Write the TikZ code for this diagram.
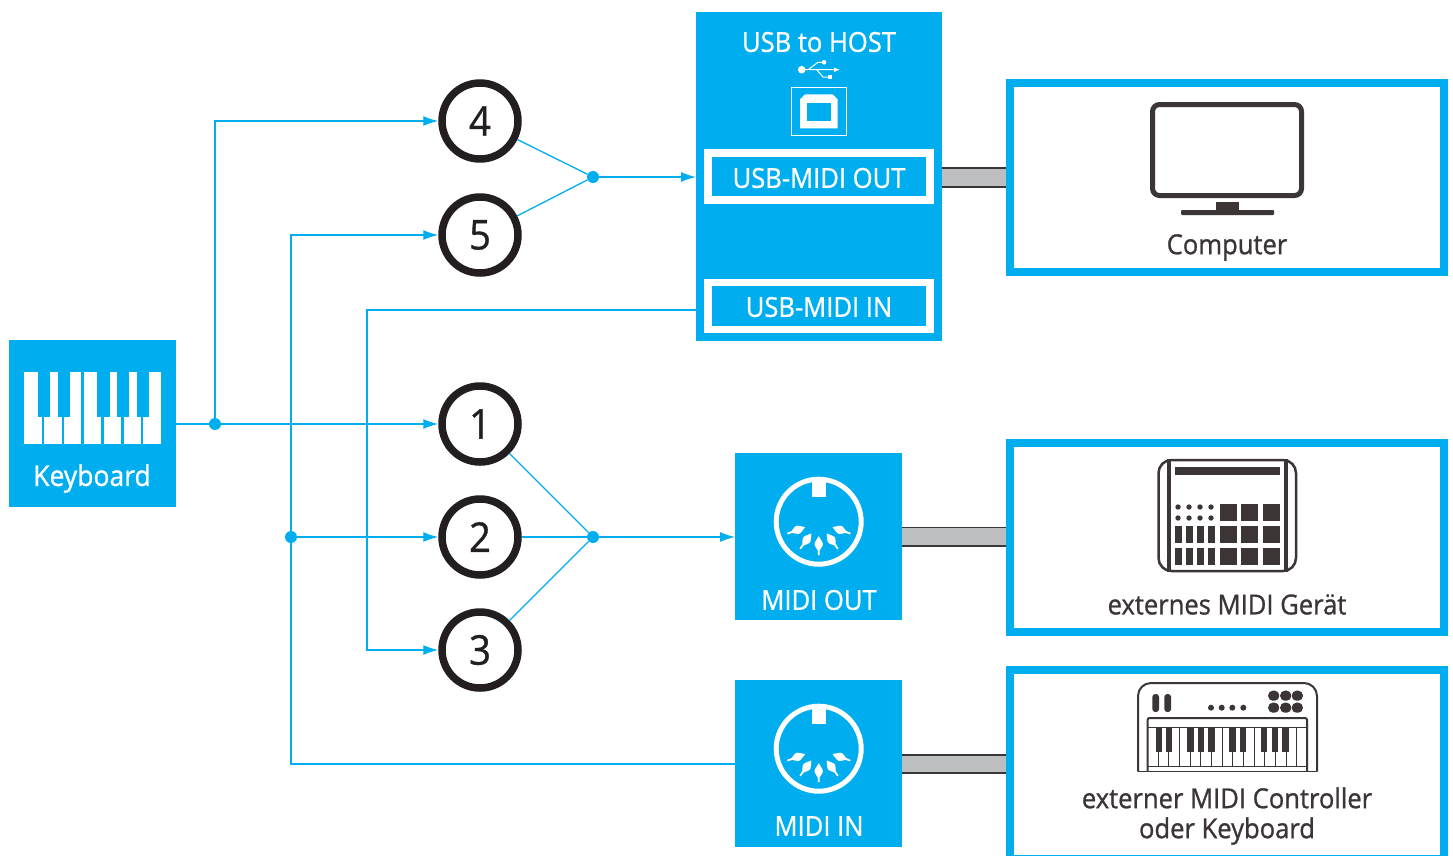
\documentclass[tikz,border=0pt]{standalone}
\usepackage{fontspec}
\setmainfont[FakeStretch=0.93,FakeBold=0.9]{Open Sans}
\usetikzlibrary{arrows.meta}
\definecolor{rblue}{HTML}{00AEEF}
\definecolor{rdark}{HTML}{3B3535}
\definecolor{rblack}{HTML}{231F20}
\definecolor{rgray}{HTML}{BCBEC0}
\newcommand\midipin[3]{\fill[white,shift={(#1,#2)},rotate=#3] (0,-9) .. controls (1.5,-6) and (4.5,-3) .. (4.2,-0.5) .. controls (4,2) and (1.5,3) .. (1,5) -- (0.8,10) -- (-0.8,10) -- (-1,5) .. controls (-1.5,3) and (-4,2) .. (-4.2,-0.5) .. controls (-4.5,-3) and (-1.5,-6) .. (0,-9) -- cycle;}
\newcommand\midijack[2]{%
  \draw[white,line width=5pt] (#1,#2) circle (42.5);
  \fill[white] (#1-7,#2-42) rectangle (#1+7.2,#2-24.5);
  \midipin{#1}{#2+23.5}{0}
  \midipin{#1-12.7}{#2+19}{-36}
  \midipin{#1+13.3}{#2+19}{36}
  \midipin{#1-22}{#2+8.5}{-70}
  \midipin{#1+22.3}{#2+8.5}{70}
}
\tikzset{
  flow/.style={draw=rblue,line width=1.3pt},
  flowarrow/.style={flow,-{Latex[length=15pt,width=10pt]}},
  junction/.style={circle,fill=rblue,inner sep=0pt,minimum size=12pt},
  numcircle/.style={circle,draw=rblack,line width=7.5pt,minimum size=76pt,inner sep=0pt,fill=white,text=rblack,font=\fontsize{41}{41}\selectfont},
  bluebox/.style={fill=rblue,inner sep=0pt,outer sep=0pt},
  framebox/.style={draw=rblue,line width=8pt,fill=white,inner sep=0pt,outer sep=0pt},
  whitebox/.style={draw=white,line width=7.5pt,fill=rblue,inner sep=0pt,outer sep=0pt},
  whitetext/.style={text=white,font=\fontsize{27.5}{27.5}\selectfont,inner sep=0pt},
  darktext/.style={text=rdark,font=\fontsize{27.5}{30}\selectfont,inner sep=0pt,align=center},
  cable/.style={fill=rgray,draw=none},
  cableedge/.style={draw=rdark,line width=1.6pt},
}
\begin{document}
\begin{tikzpicture}[x=1pt,y=-1pt]
\useasboundingbox (0,0) rectangle (1453,855);
\clip (0,0) rectangle (1453,855);
% cables
\fill[cable] (942,168) rectangle (1006,187);
\draw[cableedge] (942,168) -- (1006,168) (942,187) -- (1006,187);
\fill[cable] (902,527.5) rectangle (1006,546);
\draw[cableedge] (902,527.5) -- (1006,527.5) (902,546) -- (1006,546);
\fill[cable] (902,755) rectangle (1006,773);
\draw[cableedge] (902,755) -- (1006,755) (902,773) -- (1006,773);
% blue boxes
\node[bluebox,minimum width=167pt,minimum height=167pt] (kbd) at (92.5,423.5) {};
\node[bluebox,minimum width=246pt,minimum height=329pt] (usb) at (819,176.5) {};
\node[bluebox,minimum width=167pt,minimum height=167pt] (mout) at (818.5,536.5) {};
\node[bluebox,minimum width=167pt,minimum height=167pt] (min) at (818.5,763.5) {};
\node[whitebox,minimum width=222pt,minimum height=47pt] (uout) at (819,176.5) {};
\node[whitebox,minimum width=222pt,minimum height=47pt] (uin) at (819,306) {};
% frames
\node[framebox,minimum width=434pt,minimum height=189pt] (comp) at (1227,177) {};
\node[framebox,minimum width=434pt,minimum height=189pt] (ext) at (1227,537) {};
\node[framebox,minimum width=434pt,minimum height=189pt] (ctl) at (1227,764.5) {};
% junctions and corners
\node[junction] (j1) at (215,424) {};
\node[junction] (j2) at (291,537) {};
\node[junction] (j3) at (593,177) {};
\node[junction] (j4) at (593,537) {};
\coordinate (k4) at (215,121);
\coordinate (k5) at (291,235);
\coordinate (kin) at (291,764);
\coordinate (ku) at (367,310);
\coordinate (k3) at (367,650);
% numbered circles
\node[numcircle] (c4) at (480,121) {4};
\node[numcircle] (c5) at (480,235) {5};
\node[numcircle] (c1) at (480,424) {1};
\node[numcircle] (c2) at (480,537) {2};
\node[numcircle] (c3) at (480,650) {3};
% connectors
\draw[flowarrow] (kbd.east |- c1) -- (c1.west);
\draw[flowarrow] (j1) -- (k4) -- (c4.west);
\draw[flowarrow] (min.west |- kin) -- (kin) -- (k5) -- (c5.west);
\draw[flowarrow] (j2) -- (c2.west);
\draw[flowarrow] (usb.west |- ku) -- (ku) -- (k3) -- (c3.west);
\draw[flow] (c4) -- (j3);
\draw[flow] (c5) -- (j3);
\draw[flow] (c1) -- (j4);
\draw[flow] (c2) -- (j4);
\draw[flow] (c3) -- (j4);
\draw[flowarrow] (j3) -- (usb.west |- j3);
\draw[flowarrow] (j4) -- (mout.west |- j4);
% keyboard icon
\foreach \a/\b in {24/41.7,44.3/61.7,64/81.3,84/101,103.7/121,123.7/141,143.3/160.7}
  \fill[white] (\a,372) rectangle (\b,444);
\foreach \a/\b in {37.7/50.3,57.7/70,97/109.7,117/129.3,137/149.3}
  \fill[rblue] (\a,372) rectangle (\b,416.7);
% USB symbol
\fill[white] (801.7,69.7) circle (3.8);
\draw[white,line width=1pt] (802,69.7) -- (835,69.7) (808,69.7) -- (818,62.3) -- (824,62.3) (816.7,69.7) -- (823,77) -- (830,77);
\fill[white] (839.5,69.7) -- (834,67.5) -- (834,71.9) -- cycle;
\fill[white] (824,62.3) circle (2.3);
\fill[white] (827.5,74.7) rectangle (832,79.3);
\draw[white,line width=1pt] (791.5,87.5) rectangle (846.5,135.5);
\fill[white] (805,94.3) -- (832.7,94.3) -- (837.7,99.3) -- (837.7,128.3) -- (800,128.3) -- (800,99.3) -- cycle;
\fill[rblue] (807.3,103.3) rectangle (830.7,121.3);
% MIDI jacks
\midijack{818.7}{521.7}
\midijack{818.7}{748.7}
% monitor
\draw[rdark,line width=5pt,rounded corners=7pt] (1152.5,104.5) rectangle (1301.5,195.5);
\fill[rdark] (1216,202) rectangle (1239,211);
\fill[rdark,rounded corners=1pt] (1181,210) rectangle (1274,215);
% pad icon
\draw[rdark,line width=2.5pt,rounded corners=13pt] (1158.5,460) rectangle (1296,571);
\fill[rdark] (1167,459) rectangle (1171,572);
\fill[rdark] (1284,459) rectangle (1288,572);
\fill[rdark] (1175,467) rectangle (1280,475);
\foreach \y in {504,526,548} \foreach \x in {1220,1241,1263}
  \fill[rdark] (\x,\y) rectangle +(17,17);
\foreach \y in {507,518} \foreach \x in {1178,1189,1200,1211}
  \fill[rdark] (\x,\y) circle (2.7);
\foreach \y in {526,548} \foreach \x in {1175,1186,1197,1208}
  \fill[rdark] (\x,\y) rectangle +(7,17);
% controller icon
\draw[rdark,line width=2pt,rounded corners=13pt] (1138,771.5) -- (1138,683) -- (1317,683) -- (1317,771.5);
\draw[rdark,line width=.8pt] (1138,771.5) -- (1317,771.5);
\draw[rdark,line width=2pt,rounded corners=2pt] (1147.5,771) -- (1147.5,718) -- (1307,718) -- (1307,771);
\draw[rdark,line width=1pt] (1147.5,727) -- (1307,727) (1147.5,766) -- (1307,766);
\foreach \i in {1,...,14}
  \draw[rdark,line width=.8pt] ({1147.5+\i*10.65},727) -- ({1147.5+\i*10.65},766);
\foreach \x in {1155.7,1166,1187.3,1197.7,1208.3,1229.3,1240,1261,1271.7,1282.3}
  \fill[rdark] (\x,727) rectangle +(6.4,24.7);
\foreach \x in {1155.7,1167.7}
  \fill[rdark,rounded corners=3pt] (\x-3.4,694) rectangle (\x+3.4,712);
\foreach \x in {1211,1221.7,1232.3,1243.3}
  \fill[rdark] (\x,707.7) circle (3);
\foreach \y in {695.7,707.7} \foreach \x in {1273.7,1285.7,1297.3}
  \fill[rdark,rounded corners=4.5pt] (\x-5.5,\y-5) rectangle (\x+5.5,\y+5);
% labels
\node[whitetext] (tusb) at (819,42) {USB to HOST};
\node[whitetext] (tuo) at (819,178) {USB-MIDI OUT};
\node[whitetext] (tui) at (819,307) {USB-MIDI IN};
\node[whitetext] (tmo) at (819,600) {MIDI OUT};
\node[whitetext] (tmi) at (819,826) {MIDI IN};
\node[whitetext,font=\fontsize{28.5}{28.5}\selectfont] (tk) at (92,478.5) {Keyboard};
\node[darktext] (tc) at (1227,247.5) {Computer};
\node[darktext] (te) at (1227,604.5) {externes MIDI Gerät};
\node[darktext] (tx) at (1227,816) {externer MIDI Controller\\oder Keyboard};
\end{tikzpicture}
\end{document}
